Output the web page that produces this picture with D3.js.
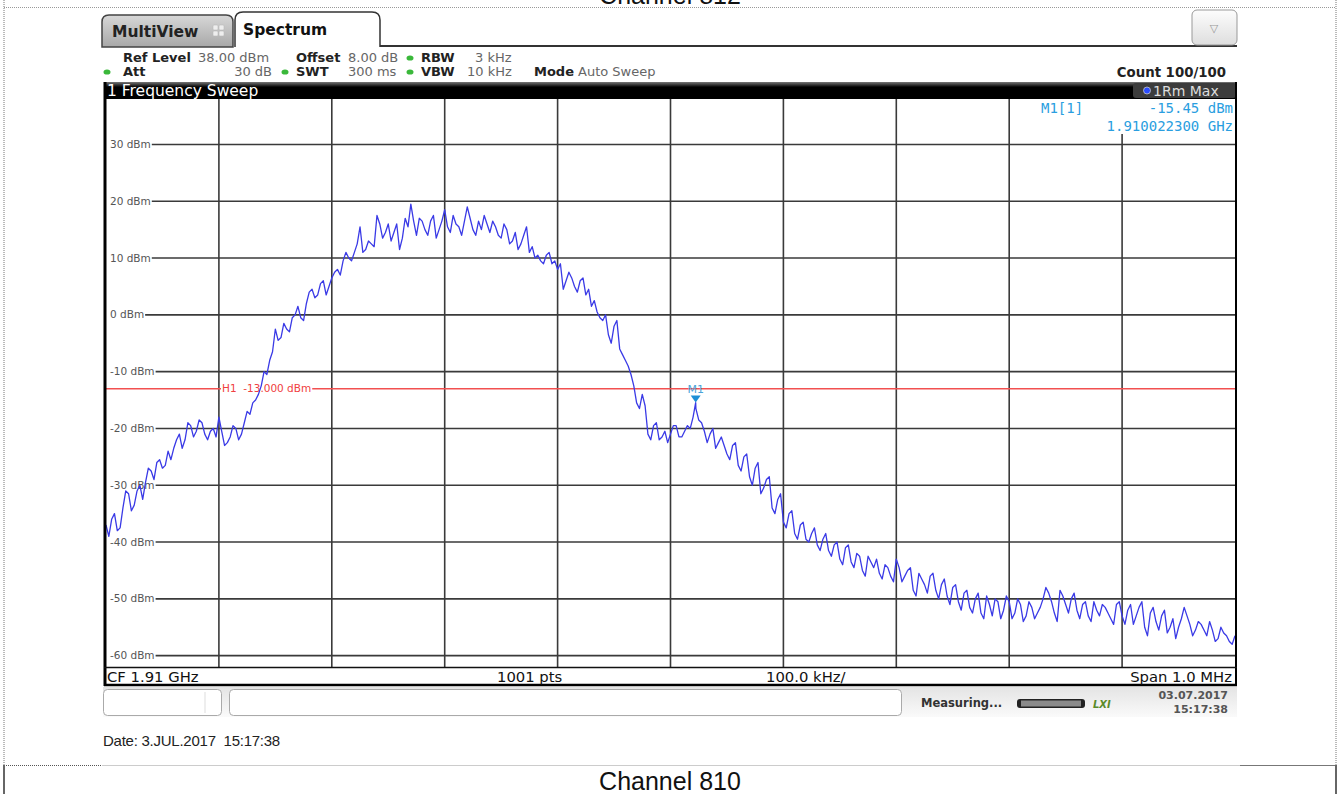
<!DOCTYPE html>
<html><head><meta charset="utf-8">
<script src="https://cdn.jsdelivr.net/npm/d3@7"></script>
<style>
html,body{margin:0;padding:0;background:#fff;}
svg{display:block;}
text{font-family:"DejaVu Sans",sans-serif;}
</style></head><body>
<svg id="c" width="1341" height="794"></svg>
<script>
// ---- data ----
const traceStartKHz = -500;
const traceStepKHz = 5;
// levels (dBm) at every 5 kHz step, -500 ... +500 kHz
const traceLevels = [
 -37,-36,-38,-34,-31.5,-33.5,-30,-29.5,-27.5,-26,
 -27,-24,-23.5,-21,-22,-19.5,-20.5,-19,-22,-20,
 -18,-23,-21.5,-20,-21,-17,-15.5,-14,-10,-8,
 -2.5,-4,-2.5,-0.5,1.5,-1,4,3,5.5,3.5,
 6.5,8,9.5,10,11,15.5,11.5,12.5,17.5,13.5,
 16,14.5,11.5,17,19.5,14,16.5,14,17.5,15,
 18.5,14.5,16,14,19,15,16.5,17.5,14.5,15.5,
 13.5,15,13,11.5,14,11,10,9.5,10.5,9,
 8,4.5,7.5,5,6,3.5,1.5,0.5,-1,-3.5,
 -2,-6,-8,-10.5,-15.5,-14,-21,-19.5,-22,-20.5,
 -21,-19.5,-21.5,-19.5,-18,-18.5,-20.5,-21,-23.5,-21.5,
 -24.5,-23,-26.5,-25,-28.5,-27,-31.5,-29,-34,-32.5,
 -36.5,-35,-38.5,-37,-39.5,-38.5,-40.5,-39.5,-41.5,-40.5,
 -43,-41,-43.5,-42,-45,-42.5,-44.5,-45.5,-44,-46,
 -43,-47,-45,-48.5,-45.5,-47.5,-46,-48.5,-47.5,-49.5,
 -48,-50.5,-49,-51.5,-50,-52.5,-49.5,-53,-50.5,-52,
 -50.5,-52.5,-51,-53,-51.5,-52.5,-50,-49,-52.5,-48.5,
 -51,-50,-52,-51,-53,-50.5,-53,-51.5,-53.5,-51,
 -53,-52,-54.5,-51.5,-55,-52.5,-54,-53,-56,-53.5,
 -55,-51.5,-54.5,-55.5,-54.5,-56.5,-55.5,-57,-56,-57.5,
 -56.5
];
// levels (dBm) half way between those steps, -497.5 ... +497.5 kHz
const traceMidLevels = [
 -39,-35,-37.5,-31,-34.5,-31,-32.5,-27,-29,-25.5,
 -26.5,-25.5,-22,-23.5,-19,-21.5,-18.5,-21,-20.5,-21.5,
 -20.5,-22.5,-19.5,-22,-19,-17.5,-15,-12.5,-10.5,-6.5,
 -4.5,-1.5,-3,0,-0.5,2,4.5,3.5,6,5,
 7.5,7,11,9.5,12.5,11,13,12,16,14.5,
 13,16,13.5,15.5,16.5,17,15,16.5,13.5,16.5,
 15.5,17.5,15.5,16.5,17,14,15,16,16.5,14,
 16,12.5,14.5,12.5,15.5,12,10.5,9,11,9.5,
 9,6,6.5,4,6.5,4.5,2.5,-0.5,0,-5,
 -1,-7,-9,-12.5,-16.5,-16,-22,-19,-21.5,-22.5,
 -19.5,-21.5,-20.5,-20,-16.5,-19,-22.5,-20,-22.5,-23,
 -25.5,-22.5,-27.5,-24.5,-30,-26,-30.5,-28.5,-35,-31.5,
 -37.5,-34.5,-39.5,-36.5,-40,-37.5,-41.5,-38.5,-42.5,-40,
 -44,-40.5,-44.5,-42.5,-46,-43.5,-43,-46.5,-44.5,-47,
 -44.5,-46,-44.5,-49.5,-46.5,-49,-45.5,-50,-46.5,-51,
 -47.5,-52,-48.5,-52.5,-49,-53.5,-51,-50,-53.5,-49.5,
 -53.5,-50,-54,-50.5,-53.5,-51.5,-48,-50.5,-54,-49.5,
 -52.5,-49,-53.5,-50.5,-54,-52,-51,-52.5,-54.5,-50.5,
 -54.5,-51,-53,-50.5,-56.5,-51.5,-55.5,-52,-55,-57,
 -53.5,-53,-56.5,-54,-55.5,-54,-57.5,-55,-56.5,-58
];
const yTickLevels = [30,20,10,0,-10,-20,-30,-40,-50,-60];
const xGridKHz = [-400,-300,-200,-100,0,100,200,300,400];
const levelDomain = [-62, 38];
const spanKHz = [-500, 500];
const h1Level = -13;
const h1Label = "H1  -13.000 dBm";
const markerKHz = 22.3;
const markerLevel = -15.45;
const markerLines = ["M1[1]", "-15.45 dBm", "1.910022300 GHz"];
const headerRow1 = [["Ref Level","b",123],["38.00 dBm","v",198],["Offset","b",296],["8.00 dB","v",348],["RBW","b",421],["3 kHz","v",475]];
const headerRow2 = [["Att","b",123],["SWT","b",296],["300 ms","v",348],["VBW","b",421],["10 kHz","v",467],["Mode","b",534],["Auto Sweep","v",578]];
const footerLabels = ["CF 1.91 GHz","1001 pts","100.0 kHz/","Span 1.0 MHz"];

// ---- drawing ----
const svg = d3.select("#c");
const defs = svg.append("defs");
function grad(id, stops){
  const g = defs.append("linearGradient").attr("id",id).attr("x1",0).attr("y1",0).attr("x2",0).attr("y2",1);
  stops.forEach(([o,c])=>g.append("stop").attr("offset",o).attr("stop-color",c));
}
grad("tabGray",[["0%","#d8d8d8"],["100%","#a8a8a8"]]);
grad("statusGrad",[["0%","#e4e4e4"],["100%","#fafafa"]]);
grad("titleGrad",[["0%","#777"],["30%","#000"],["100%","#000"]]);
grad("btnGrad",[["0%","#fdfdfd"],["100%","#dedede"]]);

// page frame
svg.append("line").attr("x1",4).attr("x2",4).attr("y1",0).attr("y2",765).attr("stroke","#777").attr("stroke-dasharray","1,1");
svg.append("line").attr("x1",1336).attr("x2",1336).attr("y1",0).attr("y2",765).attr("stroke","#777").attr("stroke-dasharray","1,1");
svg.append("line").attr("x1",4).attr("x2",1336).attr("y1",7.5).attr("y2",7.5).attr("stroke","#999").attr("stroke-dasharray","1,1");
svg.append("line").attr("x1",4).attr("x2",102).attr("y1",765.5).attr("y2",765.5).attr("stroke","#555").attr("stroke-dasharray","1,1");
svg.append("line").attr("x1",102).attr("x2",1240).attr("y1",765.5).attr("y2",765.5).attr("stroke","#ccc");
svg.append("line").attr("x1",1240).attr("x2",1336).attr("y1",765.5).attr("y2",765.5).attr("stroke","#777");
svg.append("line").attr("x1",4).attr("x2",4).attr("y1",765).attr("y2",794).attr("stroke","#666").attr("stroke-width",2);
svg.append("line").attr("x1",1336).attr("x2",1336).attr("y1",765).attr("y2",794).attr("stroke","#666").attr("stroke-width",2);

svg.append("text").attr("x",670).attr("y",4).attr("text-anchor","middle")
  .style("font-family","'Liberation Sans',Arial,sans-serif").style("font-size","25px").attr("fill","#111").text("Channel 812");
svg.append("text").attr("x",670).attr("y",790).attr("text-anchor","middle")
  .style("font-family","'Liberation Sans',Arial,sans-serif").style("font-size","25px").attr("fill","#111").text("Channel 810");

// tabs
function topRounded(x,y,w,h,r){return `M${x},${y+h}V${y+r}Q${x},${y} ${x+r},${y}H${x+w-r}Q${x+w},${y} ${x+w},${y+r}V${y+h}`;}
svg.append("path").attr("d",topRounded(102,15,131,32,7)+"Z").attr("fill","url(#tabGray)").attr("stroke","#444").attr("stroke-width",1.5);
svg.append("text").attr("x",112).attr("y",37).style("font-size","15.5px").style("font-weight","bold").attr("fill","#222").text("MultiView");
const ic = svg.append("g").attr("transform","translate(213,25)");
[[0,0],[6,0],[0,6],[6,6]].forEach(p=>ic.append("rect").attr("x",p[0]).attr("y",p[1]).attr("width",5).attr("height",5).attr("rx",1).attr("fill","#eee").attr("stroke","#bbb").attr("stroke-width",0.6));
svg.append("line").attr("x1",380).attr("x2",1237).attr("y1",46).attr("y2",46).attr("stroke","#333").attr("stroke-width",2);
svg.append("path").attr("d",topRounded(235,12,145,35,8)).attr("fill","#fff").attr("stroke","#333").attr("stroke-width",1.5);
svg.append("text").attr("x",243).attr("y",35).style("font-size","15.5px").style("font-weight","bold").attr("fill","#111").text("Spectrum");
svg.append("rect").attr("x",1192).attr("y",10).attr("width",45).attr("height",35).attr("rx",5).attr("fill","url(#btnGrad)").attr("stroke","#999");
svg.append("text").attr("x",1214).attr("y",32).attr("text-anchor","middle").style("font-size","11px").attr("fill","#999").text("▽");

// header info
function hdr(row,y){
  row.forEach(([t,k,x])=>{
    svg.append("text").attr("x",x).attr("y",y).style("font-size","13px")
      .style("font-weight",k==="b"?"bold":"normal").attr("fill",k==="b"?"#222":"#666").text(t);
  });
}
hdr(headerRow1,62);
hdr(headerRow2,76);
svg.append("text").attr("x",272).attr("y",76).attr("text-anchor","end").style("font-size","13px").attr("fill","#666").text("30 dB");
[[107,72],[285,72],[410,72],[410,58]].forEach(p=>svg.append("ellipse").attr("cx",p[0]).attr("cy",p[1]).attr("rx",3.5).attr("ry",2.6).attr("fill","#3ab83a"));
svg.append("text").attr("x",1226).attr("y",77).attr("text-anchor","end").style("font-size","13.3px").style("font-weight","bold").attr("fill","#222").text("Count 100/100");

// title bar
svg.append("rect").attr("x",104).attr("y",82).attr("width",1133).attr("height",17).attr("fill","url(#titleGrad)");
svg.append("text").attr("x",107).attr("y",96).style("font-size","15.5px").attr("fill","#fff").text("1 Frequency Sweep");
svg.append("rect").attr("x",1133).attr("y",83).attr("width",103).attr("height",15).attr("rx",3).attr("fill","#3c3c3c");
svg.append("circle").attr("cx",1147).attr("cy",90.5).attr("r",3.5).attr("fill","#2b4cff").attr("stroke","#ccc").attr("stroke-width",0.8);
svg.append("text").attr("x",1153).attr("y",96).style("font-size","14px").attr("fill","#ddd").text("1Rm Max");

// scales
const x = d3.scaleLinear().domain(spanKHz).range([106,1235]);
const y = d3.scaleLinear().domain(levelDomain).range([667,99]);

// plot area
svg.append("rect").attr("x",106).attr("y",99).attr("width",1129).attr("height",568).attr("fill","#fff");
const grid = svg.append("g");
xGridKHz.forEach(k=>{
  const top = (x(k) > 1100) ? 134 : 99;
  grid.append("line").attr("x1",x(k)).attr("x2",x(k)).attr("y1",top).attr("y2",667).attr("stroke","#3a3a3a").attr("stroke-width",1.6);
});
yTickLevels.forEach(v=>{
  const t = grid.append("text").attr("x",110).attr("y",y(v)+3.5).style("font-size","10.5px").attr("fill","#555").text(`${v} dBm`);
  const w = t.node().getComputedTextLength();
  grid.append("line").attr("x1",110+w+1).attr("x2",1235).attr("y1",y(v)).attr("y2",y(v)).attr("stroke","#3a3a3a").attr("stroke-width",1.6);
});

// H1 line
svg.append("line").attr("x1",106).attr("x2",1235).attr("y1",y(h1Level)).attr("y2",y(h1Level)).attr("stroke","#f25050").attr("stroke-width",1.6);
const h1bg = svg.append("rect").attr("x",221).attr("y",y(h1Level)-5).attr("height",10).attr("fill","#fff");
const h1t = svg.append("text").attr("x",222).attr("y",y(h1Level)+3.5).style("font-size","10.5px").attr("fill","#f04040").attr("xml:space","preserve").text(h1Label);
h1bg.attr("width", h1t.node().getComputedTextLength()+2);

// trace
const pts = traceLevels.map((v,i)=>[traceStartKHz+i*traceStepKHz, v])
  .concat(traceMidLevels.map((v,i)=>[traceStartKHz+(i+0.5)*traceStepKHz, v]));
pts.push([markerKHz, markerLevel]);
pts.sort((a,b)=>a[0]-b[0]);
const line = d3.line().x(d=>x(d[0])).y(d=>y(d[1]));
svg.append("path").attr("d",line(pts)).attr("fill","none").attr("stroke","#3a3ae6").attr("stroke-width",1.3).attr("stroke-linejoin","round");

// marker
const mx = x(markerKHz), my = y(markerLevel);
svg.append("path").attr("d",`M${mx-5},${my-7}L${mx+5},${my-7}L${mx},${my}Z`).attr("fill","#1c8fd6");
svg.append("text").attr("x",mx).attr("y",my-10).attr("text-anchor","middle").style("font-size","11px").attr("fill","#4aa3d8").text("M1");

// marker info
const mono = "'DejaVu Sans Mono',monospace";
svg.append("text").attr("x",1041).attr("y",113).style("font-family",mono).style("font-size","14px").attr("fill","#2a9ee0").text(markerLines[0]);
svg.append("text").attr("x",1233).attr("y",113).attr("text-anchor","end").style("font-family",mono).style("font-size","14px").attr("fill","#2a9ee0").text(markerLines[1]);
svg.append("text").attr("x",1233).attr("y",131).attr("text-anchor","end").style("font-family",mono).style("font-size","14px").attr("fill","#2a9ee0").text(markerLines[2]);

// frame borders
svg.append("line").attr("x1",105).attr("x2",105).attr("y1",82).attr("y2",686).attr("stroke","#000").attr("stroke-width",3);
svg.append("line").attr("x1",1236).attr("x2",1236).attr("y1",82).attr("y2",686).attr("stroke","#000").attr("stroke-width",2);
svg.append("line").attr("x1",104).attr("x2",1237).attr("y1",667.5).attr("y2",667.5).attr("stroke","#111").attr("stroke-width",1.5);
svg.append("line").attr("x1",104).attr("x2",1237).attr("y1",685).attr("y2",685).attr("stroke","#000").attr("stroke-width",2.5);

// footer labels
const fx = [[107,"start"],[497,"start"],[766,"start"],[1232,"end"]];
footerLabels.forEach((t,i)=>svg.append("text").attr("x",fx[i][0]).attr("y",682).attr("text-anchor",fx[i][1]).style("font-size","14.8px").attr("fill","#111").text(t));

// status bar
svg.append("rect").attr("x",103).attr("y",687).attr("width",1134).attr("height",30).attr("fill","url(#statusGrad)");
svg.append("rect").attr("x",103.5).attr("y",689.5).attr("width",118).attr("height",26).attr("rx",4).attr("fill","#fff").attr("stroke","#aaa");
svg.append("line").attr("x1",205).attr("x2",205).attr("y1",692).attr("y2",713).attr("stroke","#ddd");
svg.append("rect").attr("x",229.5).attr("y",689.5).attr("width",672).attr("height",26).attr("rx",4).attr("fill","#fff").attr("stroke","#aaa");
svg.append("text").attr("x",921).attr("y",707).style("font-size","11.5px").style("font-weight","bold").attr("fill","#333").text("Measuring...");
svg.append("rect").attr("x",1017).attr("y",699).attr("width",68).attr("height",9).attr("rx",3).attr("fill","#222");
svg.append("rect").attr("x",1021).attr("y",700.5).attr("width",60).attr("height",6).attr("fill","#8a8a8a");
svg.append("text").attr("x",1093).attr("y",708).style("font-size","10px").style("font-weight","bold").style("font-style","italic").attr("fill","#5a8a2a").text("LXI");
svg.append("text").attr("x",1228).attr("y",699).attr("text-anchor","end").style("font-size","11px").style("font-weight","bold").attr("fill","#555").text("03.07.2017");
svg.append("text").attr("x",1228).attr("y",713).attr("text-anchor","end").style("font-size","11px").style("font-weight","bold").attr("fill","#555").text("15:17:38");

// date line
svg.append("text").attr("x",103).attr("y",746).style("font-family","'Liberation Sans',Arial,sans-serif").style("font-size","15px").style("letter-spacing","-0.25px").attr("fill","#222").attr("xml:space","preserve").text("Date: 3.JUL.2017  15:17:38");
</script>
</body></html>
